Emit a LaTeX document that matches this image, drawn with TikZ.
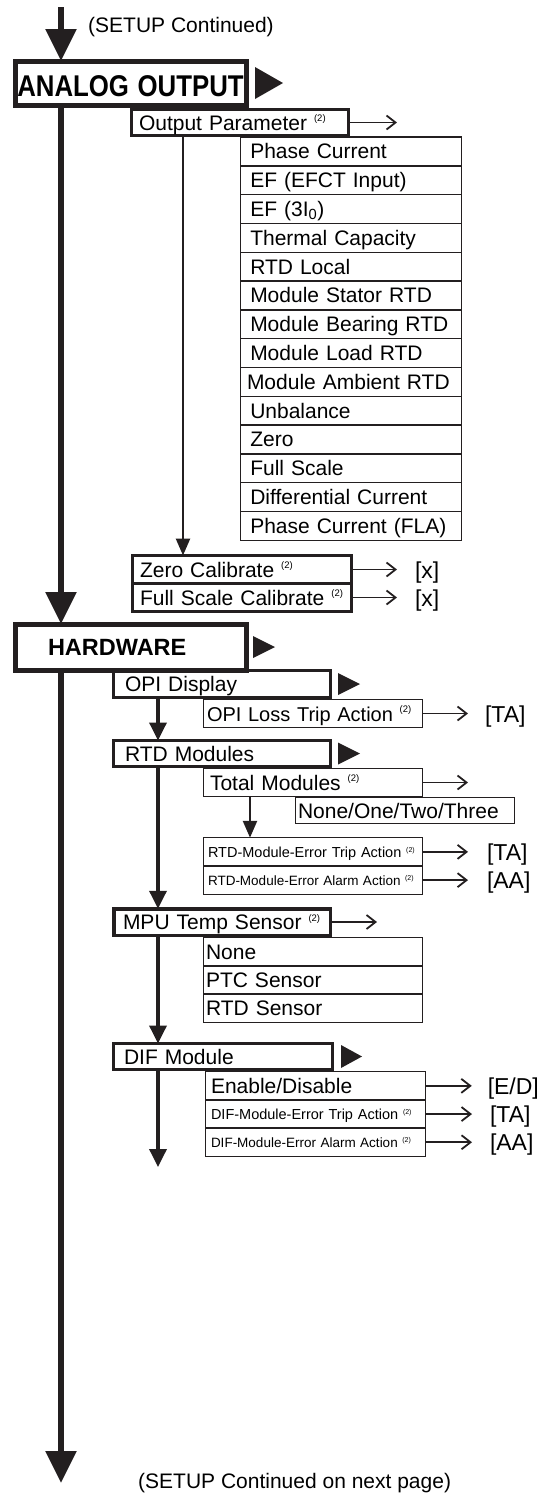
\documentclass[tikz,border=0pt]{standalone}
\usepackage{fontspec}
\setmainfont{Liberation Sans}
\usepackage{graphicx}
\usetikzlibrary{arrows.meta, positioning}

\definecolor{ink}{RGB}{35,31,32}

\newcommand\refnote{\raisebox{8.4pt}{\fontsize{9.5}{9.5}\selectfont(2)}}
\newcommand\refnotes{\raisebox{5pt}{\fontsize{7}{7}\selectfont(2)}}
\newcommand\submenu[4]{\fill[ink] ([xshift=#2pt]#1.east) ++(0,#4) -- ++(#3,-#4) -- ++(-#3,-#4) -- cycle;}

\begin{document}
\begin{tikzpicture}[
    x=1pt, y=1pt,
    font=\fontsize{21}{24}\selectfont,
    node distance=0pt,
    head/.style={draw=ink, line width=5pt, outer sep=0pt, align=left, inner ysep=0pt, font=\fontsize{23.5}{26}\selectfont\bfseries},
    menu/.style={draw=ink, line width=3pt, outer sep=0pt, align=left, inner ysep=0pt, minimum height=27pt, text height=15.5pt, text depth=0.5pt},
    cell/.style={draw=ink, line width=1.4pt, outer sep=0pt, align=left, inner ysep=0pt, minimum height=#1, text height=15.5pt, text depth=0.5pt},
    cell/.default=28.8pt,
    param/.style={cell, text width=201.5pt, inner xsep=9.5pt},
    small/.style={font=\fontsize{14.5}{16}\selectfont, text height=11pt, text depth=0.6pt},
    val/.style={inner sep=0pt, outer sep=0pt, font=\fontsize{23}{26}\selectfont, text height=17pt, text depth=0pt},
    note/.style={inner sep=0pt, anchor=west},
    mainline/.style={draw=ink, line width=5.5pt, -{Triangle[length=32pt, width=30pt]}},
    subline/.style={draw=ink, line width=3.5pt, -{Triangle[length=18pt, width=17pt]}},
    thinline/.style={draw=ink, line width=2.5pt, -{Triangle[length=17pt, width=14pt]}},
    goto/.style={draw=ink, line width=1.8pt, -{Straight Barb[length=9pt, width=14pt]}}
]
    \useasboundingbox (0,0) rectangle (539,-1497);

    % Spines
    \coordinate (top) at (61,-7);
    \coordinate (bottom) at (61,-1483);
    \coordinate (calx) at (183,-140);
    \coordinate (spine) at (158,-1167);
    \coordinate (modx) at (250,-800);

    \node[note] (cont) at (88,-27) {(SETUP Continued)};

    % Analog output
    \node[head, anchor=north west, text width=227pt, inner xsep=2pt, align=center, minimum height=44pt, font=\fontsize{30}{32}\selectfont\bfseries, text height=28pt, text depth=0.5pt] (analog) at (15,-61) {\scalebox{0.86}[1]{ANALOG OUTPUT}};
    \submenu{analog}{9}{28}{16}

    \node[menu, anchor=north west, text width=202pt, inner xsep=7.5pt, minimum height=26pt] (outpar) at (131.5,-109.5) {Output Parameter~\refnote};
    \coordinate[right=48.5pt of outpar] (outparend);

    \node[param, anchor=north west] (p1) at (240.75,-137) {Phase Current};
    \node[param, below=of p1] (p2) {EF (EFCT Input)};
    \node[param, below=of p2] (p3) {EF (3I\textsubscript{0})};
    \node[param, below=of p3] (p4) {Thermal Capacity};
    \node[param, below=of p4] (p5) {RTD Local};
    \node[param, below=of p5] (p6) {Module Stator RTD};
    \node[param, below=of p6] (p7) {Module Bearing RTD};
    \node[param, below=of p7] (p8) {Module Load RTD};
    \node[param, text width=208pt, inner xsep=6.25pt, below=of p8] (p9) {Module Ambient RTD};
    \node[param, below=of p9] (p10) {Unbalance};
    \node[param, below=of p10] (p11) {Zero};
    \node[param, below=of p11] (p12) {Full Scale};
    \node[param, below=of p12] (p13) {Differential Current};
    \node[param, below=of p13] (p14) {Phase Current (FLA)};

    \node[menu, anchor=north west, text width=204pt, inner xsep=7.5pt, minimum height=28pt] (zerocal) at (132.5,-555.5) {Zero Calibrate~\refnote};
    \node[menu, text width=204pt, inner xsep=7.5pt, minimum height=28pt, below=of zerocal] (fullcal) {Full Scale Calibrate~\refnote};
    \node[val, right=63.5pt of zerocal] (zerox) {[x]};
    \node[val, right=63.5pt of fullcal] (fullx) {[x]};

    % Hardware
    \node[head, anchor=north west, text width=165pt, inner xsep=33pt, minimum height=46pt, text height=17.3pt, text depth=0.5pt] (hardware) at (15,-624) {HARDWARE};
    \submenu{hardware}{7}{22}{11}

    \node[menu, anchor=north west, text width=194pt, inner xsep=11.5pt] (opi) at (113.5,-670.5) {OPI Display};
    \submenu{opi}{7.5}{22}{11}
    \node[cell=27.5pt, anchor=north west, font=\fontsize{20}{24}\selectfont, text width=212pt, inner xsep=3.25pt] (opiloss) at (203.75,-699.75) {OPI Loss Trip Action~\refnote};
    \node[val, right=62.75pt of opiloss] (opita) {[TA]};

    \node[menu, anchor=north west, text width=194pt, inner xsep=11.5pt, minimum height=26pt] (rtd) at (113.5,-740.5) {RTD Modules};
    \submenu{rtd}{7.5}{22}{11}
    \node[cell=27.5pt, anchor=north west, text width=206pt, inner xsep=6.25pt] (total) at (203.75,-768.75) {Total Modules~\refnote};
    \coordinate[right=45.75pt of total] (totalend);
    \node[cell=25.5pt, anchor=north west, text width=214pt, inner xsep=2.25pt, line width=1.1pt] (count) at (295.75,-797.75) {None/One/Two/Three};
    \node[cell=28.25pt, small, anchor=north west, text width=210pt, inner xsep=4.25pt] (rtdtrip) at (203.75,-837.75) {RTD-Module-Error Trip Action~\refnotes};
    \node[cell=28.25pt, small, font=\fontsize{13.5}{15}\selectfont, text width=210pt, inner xsep=4.25pt, below=of rtdtrip] (rtdalarm) {RTD-Module-Error Alarm Action~\refnotes};
    \node[val, right=64.75pt of rtdtrip] (rtdta) {[TA]};
    \node[val, right=64.75pt of rtdalarm] (rtdaa) {[AA]};

    \node[menu, anchor=north west, line width=3.5pt, text width=198pt, inner xsep=9.25pt, minimum height=26.5pt] (mpu) at (113.75,-908.75) {MPU Temp Sensor~\refnote};
    \coordinate[right=46.75pt of mpu] (mpuend);
    \node[cell=28.2pt, anchor=north west, text width=214pt, inner xsep=2.25pt] (none) at (203.75,-937.75) {None};
    \node[cell=28.2pt, text width=214pt, inner xsep=2.25pt, below=of none] (ptc) {PTC Sensor};
    \node[cell=28.2pt, text width=214pt, inner xsep=2.25pt, below=of ptc] (rtdsensor) {RTD Sensor};

    \node[menu, anchor=north west, text width=198pt, inner xsep=10.5pt, minimum height=26pt] (dif) at (113.5,-1043.5) {DIF Module};
    \submenu{dif}{8.5}{21}{11.5}
    \node[cell=28.2pt, anchor=north west, text width=209pt, inner xsep=5.25pt] (enable) at (205.75,-1071.75) {Enable/Disable};
    \node[cell=28.2pt, small, text width=209pt, inner xsep=5.25pt, below=of enable] (diftrip) {DIF-Module-Error Trip Action~\refnotes};
    \node[cell=28.2pt, small, font=\fontsize{13.5}{15}\selectfont, text width=209pt, inner xsep=5.25pt, below=of diftrip] (difalarm) {DIF-Module-Error Alarm Action~\refnotes};
    \node[val, right=62.5pt of enable] (ed) {[E/D]};
    \node[val, right=64.75pt of diftrip] (difta) {[TA]};
    \node[val, right=64.75pt of difalarm] (difaa) {[AA]};

    \node[note] (next) at (138,-1483) {(SETUP Continued on next page)};

    % Connections
    \draw[mainline] (top) -- (top |- analog.north);
    \draw[mainline] (top |- analog.south) -- (top |- hardware.north);
    \draw[mainline] (top |- hardware.south) -- (bottom);
    \draw[thinline] (calx |- outpar.south) -- (calx |- zerocal.north);
    \draw[goto] (outpar) -- (outparend);
    \draw[goto, shorten >=18pt] (zerocal) -- (zerox);
    \draw[goto, shorten >=18pt] (fullcal) -- (fullx);

    \draw[subline] (spine |- opi.south) -- (spine |- rtd.north);
    \draw[subline] (spine |- rtd.south) -- (spine |- mpu.north);
    \draw[subline] (spine |- mpu.south) -- (spine |- dif.north);
    \draw[subline] (spine |- dif.south) -- (spine);
    \draw[goto, shorten >=17pt] (opiloss) -- (opita);
    \draw[goto] (total) -- (totalend);
    \draw[thinline] (modx |- total.south) -- (modx |- rtdtrip.north);
    \draw[goto, shorten >=19pt] (rtdtrip) -- (rtdta);
    \draw[goto, shorten >=19pt] (rtdalarm) -- (rtdaa);
    \draw[goto] (mpu) -- (mpuend);
    \draw[goto, shorten >=16pt] (enable) -- (ed);
    \draw[goto, shorten >=18pt] (diftrip) -- (difta);
    \draw[goto, shorten >=18pt] (difalarm) -- (difaa);
\end{tikzpicture}
\end{document}
